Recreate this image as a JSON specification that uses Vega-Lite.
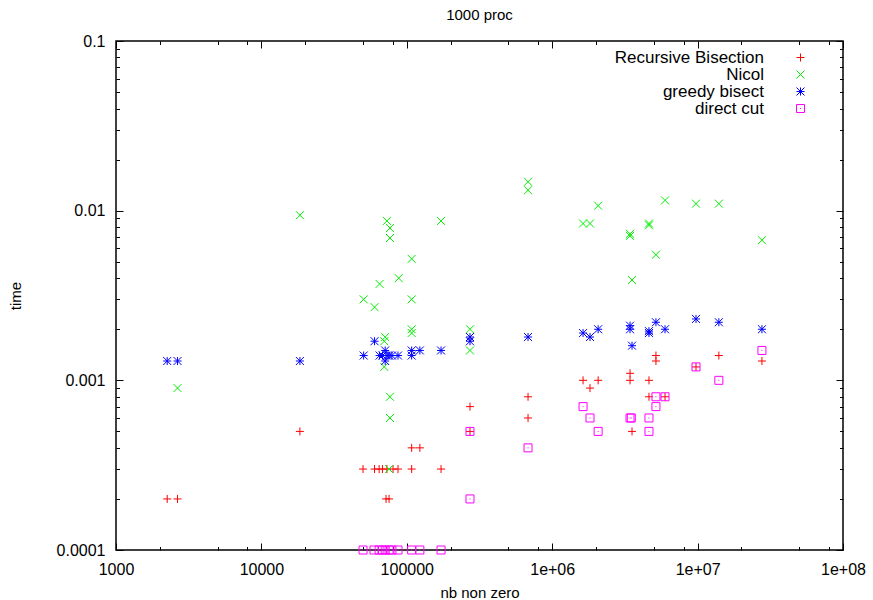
{
  "$schema": "https://vega.github.io/schema/vega-lite/v6.json",
  "width": 727,
  "height": 509,
  "autosize": {"type": "none"},
  "padding": {"left": 116, "top": 41, "right": 30, "bottom": 50},
  "background": "white",
  "title": {"text": "1000 proc", "font": "Liberation Sans", "fontSize": 15, "fontWeight": "normal", "color": "black", "anchor": "middle", "offset": 10},
  "config": {
    "view": {"stroke": "black", "strokeWidth": 1.5},
    "font": "Liberation Sans"
  },
  "data": {"values": [
    {"algo": "Recursive Bisection", "nnz": 2250, "time": 0.0002},
    {"algo": "Recursive Bisection", "nnz": 2650, "time": 0.0002},
    {"algo": "Recursive Bisection", "nnz": 18400, "time": 0.0005},
    {"algo": "Recursive Bisection", "nnz": 50000, "time": 0.0003},
    {"algo": "Recursive Bisection", "nnz": 60000, "time": 0.0003},
    {"algo": "Recursive Bisection", "nnz": 64500, "time": 0.0003},
    {"algo": "Recursive Bisection", "nnz": 68000, "time": 0.0003},
    {"algo": "Recursive Bisection", "nnz": 73000, "time": 0.0003},
    {"algo": "Recursive Bisection", "nnz": 80400, "time": 0.0003},
    {"algo": "Recursive Bisection", "nnz": 87000, "time": 0.0003},
    {"algo": "Recursive Bisection", "nnz": 108000, "time": 0.0003},
    {"algo": "Recursive Bisection", "nnz": 172000, "time": 0.0003},
    {"algo": "Recursive Bisection", "nnz": 72000, "time": 0.0002},
    {"algo": "Recursive Bisection", "nnz": 75500, "time": 0.0002},
    {"algo": "Recursive Bisection", "nnz": 108000, "time": 0.0004},
    {"algo": "Recursive Bisection", "nnz": 123000, "time": 0.0004},
    {"algo": "Recursive Bisection", "nnz": 272000, "time": 0.0007},
    {"algo": "Recursive Bisection", "nnz": 272000, "time": 0.0005},
    {"algo": "Recursive Bisection", "nnz": 682000, "time": 0.0008},
    {"algo": "Recursive Bisection", "nnz": 682000, "time": 0.0006},
    {"algo": "Recursive Bisection", "nnz": 1630000, "time": 0.001},
    {"algo": "Recursive Bisection", "nnz": 2070000, "time": 0.001},
    {"algo": "Recursive Bisection", "nnz": 1820000, "time": 0.0009},
    {"algo": "Recursive Bisection", "nnz": 3430000, "time": 0.0011},
    {"algo": "Recursive Bisection", "nnz": 3430000, "time": 0.001},
    {"algo": "Recursive Bisection", "nnz": 4630000, "time": 0.001},
    {"algo": "Recursive Bisection", "nnz": 3540000, "time": 0.0005},
    {"algo": "Recursive Bisection", "nnz": 4630000, "time": 0.0008},
    {"algo": "Recursive Bisection", "nnz": 5170000, "time": 0.0014},
    {"algo": "Recursive Bisection", "nnz": 5170000, "time": 0.0013},
    {"algo": "Recursive Bisection", "nnz": 5970000, "time": 0.0008},
    {"algo": "Recursive Bisection", "nnz": 9750000, "time": 0.0012},
    {"algo": "Recursive Bisection", "nnz": 14000000, "time": 0.0014},
    {"algo": "Recursive Bisection", "nnz": 27700000, "time": 0.0013},
    {"algo": "Nicol", "nnz": 2650, "time": 0.0009},
    {"algo": "Nicol", "nnz": 18400, "time": 0.0094},
    {"algo": "Nicol", "nnz": 73000, "time": 0.0087},
    {"algo": "Nicol", "nnz": 76600, "time": 0.0079},
    {"algo": "Nicol", "nnz": 76600, "time": 0.0069},
    {"algo": "Nicol", "nnz": 172000, "time": 0.0087},
    {"algo": "Nicol", "nnz": 108000, "time": 0.0052},
    {"algo": "Nicol", "nnz": 88000, "time": 0.004},
    {"algo": "Nicol", "nnz": 65000, "time": 0.0037},
    {"algo": "Nicol", "nnz": 50500, "time": 0.003},
    {"algo": "Nicol", "nnz": 60000, "time": 0.0027},
    {"algo": "Nicol", "nnz": 108000, "time": 0.003},
    {"algo": "Nicol", "nnz": 108000, "time": 0.002},
    {"algo": "Nicol", "nnz": 108000, "time": 0.0019},
    {"algo": "Nicol", "nnz": 71000, "time": 0.0018},
    {"algo": "Nicol", "nnz": 70000, "time": 0.0017},
    {"algo": "Nicol", "nnz": 70000, "time": 0.0012},
    {"algo": "Nicol", "nnz": 76600, "time": 0.0008},
    {"algo": "Nicol", "nnz": 76600, "time": 0.0006},
    {"algo": "Nicol", "nnz": 75500, "time": 0.0003},
    {"algo": "Nicol", "nnz": 272000, "time": 0.002},
    {"algo": "Nicol", "nnz": 272000, "time": 0.0015},
    {"algo": "Nicol", "nnz": 682000, "time": 0.0148},
    {"algo": "Nicol", "nnz": 682000, "time": 0.0132},
    {"algo": "Nicol", "nnz": 2070000, "time": 0.0107},
    {"algo": "Nicol", "nnz": 1630000, "time": 0.0084},
    {"algo": "Nicol", "nnz": 1820000, "time": 0.0084},
    {"algo": "Nicol", "nnz": 3430000, "time": 0.0073},
    {"algo": "Nicol", "nnz": 3430000, "time": 0.0071},
    {"algo": "Nicol", "nnz": 4630000, "time": 0.0084},
    {"algo": "Nicol", "nnz": 4630000, "time": 0.0082},
    {"algo": "Nicol", "nnz": 5970000, "time": 0.0115},
    {"algo": "Nicol", "nnz": 9750000, "time": 0.011},
    {"algo": "Nicol", "nnz": 14000000, "time": 0.011},
    {"algo": "Nicol", "nnz": 27700000, "time": 0.0067},
    {"algo": "Nicol", "nnz": 5170000, "time": 0.0055},
    {"algo": "Nicol", "nnz": 3540000, "time": 0.0039},
    {"algo": "greedy bisect", "nnz": 2250, "time": 0.0013},
    {"algo": "greedy bisect", "nnz": 2650, "time": 0.0013},
    {"algo": "greedy bisect", "nnz": 18400, "time": 0.0013},
    {"algo": "greedy bisect", "nnz": 50500, "time": 0.0014},
    {"algo": "greedy bisect", "nnz": 60000, "time": 0.0017},
    {"algo": "greedy bisect", "nnz": 65000, "time": 0.0014},
    {"algo": "greedy bisect", "nnz": 68000, "time": 0.0014},
    {"algo": "greedy bisect", "nnz": 71000, "time": 0.0015},
    {"algo": "greedy bisect", "nnz": 73000, "time": 0.0014},
    {"algo": "greedy bisect", "nnz": 71000, "time": 0.0013},
    {"algo": "greedy bisect", "nnz": 75500, "time": 0.0014},
    {"algo": "greedy bisect", "nnz": 79000, "time": 0.0014},
    {"algo": "greedy bisect", "nnz": 87000, "time": 0.0014},
    {"algo": "greedy bisect", "nnz": 108000, "time": 0.0015},
    {"algo": "greedy bisect", "nnz": 108000, "time": 0.0014},
    {"algo": "greedy bisect", "nnz": 123000, "time": 0.0015},
    {"algo": "greedy bisect", "nnz": 172000, "time": 0.0015},
    {"algo": "greedy bisect", "nnz": 272000, "time": 0.0018},
    {"algo": "greedy bisect", "nnz": 272000, "time": 0.0017},
    {"algo": "greedy bisect", "nnz": 682000, "time": 0.0018},
    {"algo": "greedy bisect", "nnz": 1630000, "time": 0.0019},
    {"algo": "greedy bisect", "nnz": 1820000, "time": 0.0018},
    {"algo": "greedy bisect", "nnz": 2070000, "time": 0.002},
    {"algo": "greedy bisect", "nnz": 3430000, "time": 0.0021},
    {"algo": "greedy bisect", "nnz": 3430000, "time": 0.002},
    {"algo": "greedy bisect", "nnz": 3540000, "time": 0.0016},
    {"algo": "greedy bisect", "nnz": 4630000, "time": 0.0019},
    {"algo": "greedy bisect", "nnz": 4630000, "time": 0.00195},
    {"algo": "greedy bisect", "nnz": 5170000, "time": 0.0022},
    {"algo": "greedy bisect", "nnz": 5970000, "time": 0.002},
    {"algo": "greedy bisect", "nnz": 9750000, "time": 0.0023},
    {"algo": "greedy bisect", "nnz": 14000000, "time": 0.0022},
    {"algo": "greedy bisect", "nnz": 27700000, "time": 0.002},
    {"algo": "direct cut", "nnz": 50000, "time": 0.0001},
    {"algo": "direct cut", "nnz": 59500, "time": 0.0001},
    {"algo": "direct cut", "nnz": 64500, "time": 0.0001},
    {"algo": "direct cut", "nnz": 68000, "time": 0.0001},
    {"algo": "direct cut", "nnz": 71000, "time": 0.0001},
    {"algo": "direct cut", "nnz": 75500, "time": 0.0001},
    {"algo": "direct cut", "nnz": 79000, "time": 0.0001},
    {"algo": "direct cut", "nnz": 87000, "time": 0.0001},
    {"algo": "direct cut", "nnz": 108000, "time": 0.0001},
    {"algo": "direct cut", "nnz": 123000, "time": 0.0001},
    {"algo": "direct cut", "nnz": 172000, "time": 0.0001},
    {"algo": "direct cut", "nnz": 272000, "time": 0.0005},
    {"algo": "direct cut", "nnz": 272000, "time": 0.0002},
    {"algo": "direct cut", "nnz": 682000, "time": 0.0004},
    {"algo": "direct cut", "nnz": 1630000, "time": 0.0007},
    {"algo": "direct cut", "nnz": 1820000, "time": 0.0006},
    {"algo": "direct cut", "nnz": 2070000, "time": 0.0005},
    {"algo": "direct cut", "nnz": 3430000, "time": 0.0006},
    {"algo": "direct cut", "nnz": 3500000, "time": 0.0006},
    {"algo": "direct cut", "nnz": 4630000, "time": 0.0006},
    {"algo": "direct cut", "nnz": 4630000, "time": 0.0005},
    {"algo": "direct cut", "nnz": 5170000, "time": 0.0007},
    {"algo": "direct cut", "nnz": 5170000, "time": 0.0008},
    {"algo": "direct cut", "nnz": 5970000, "time": 0.0008},
    {"algo": "direct cut", "nnz": 9750000, "time": 0.0012},
    {"algo": "direct cut", "nnz": 14000000, "time": 0.001},
    {"algo": "direct cut", "nnz": 27700000, "time": 0.0015}
  ]},
  "layer": [
    {
      "mark": {"type": "point", "filled": false, "strokeWidth": 1, "opacity": 1, "size": 64, "clip": false},
      "encoding": {
        "x": {
          "field": "nnz", "type": "quantitative",
          "scale": {"type": "log", "domain": [1000, 100000000], "nice": false},
          "axis": {
            "title": "nb non zero", "titleFont": "Liberation Sans", "titleFontSize": 15, "titleFontWeight": "normal", "titleColor": "black", "titlePadding": 5,
            "values": [1000, 2000, 5000, 8000, 10000, 20000, 50000, 80000, 100000, 200000, 500000, 800000, 1000000, 2000000, 5000000, 8000000, 10000000, 20000000, 50000000, 80000000, 100000000],
            "labelExpr": "abs(log(datum.value)/LN10 - round(log(datum.value)/LN10)) < 0.001 ? (datum.value < 1000000 ? format(datum.value, 'd') : '1e+0' + round(log(datum.value)/LN10)) : ''",
            "labelFont": "Liberation Sans", "labelFontSize": 16, "labelColor": "black", "labelFlush": false, "labelOverlap": false,
            "labelPadding": 18,
            "domain": false, "grid": false,
            "tickColor": "black", "tickWidth": 1,
            "tickSize": {"condition": {"test": "abs(log(datum.value)/LN10 - round(log(datum.value)/LN10)) < 0.001", "value": -7}, "value": -3.5}
          }
        },
        "y": {
          "field": "time", "type": "quantitative",
          "scale": {"type": "log", "domain": [0.0001, 0.1], "nice": false},
          "axis": {
            "title": "time", "titleFont": "Liberation Sans", "titleFontSize": 15, "titleFontWeight": "normal", "titleColor": "black", "titlePadding": 33,
            "values": [0.0001, 0.0002, 0.0003, 0.0004, 0.0005, 0.0006, 0.0007, 0.0008, 0.0009, 0.001, 0.002, 0.003, 0.004, 0.005, 0.006, 0.007, 0.008, 0.009, 0.01, 0.02, 0.03, 0.04, 0.05, 0.06, 0.07, 0.08, 0.09, 0.1],
            "labelExpr": "abs(log(datum.value)/LN10 - round(log(datum.value)/LN10)) < 0.001 ? format(datum.value, '~g') : ''",
            "labelFont": "Liberation Sans", "labelFontSize": 16, "labelColor": "black", "labelFlush": false, "labelOverlap": false,
            "labelPadding": 18,
            "domain": false, "grid": false,
            "tickColor": "black", "tickWidth": 1,
            "tickSize": {"condition": {"test": "abs(log(datum.value)/LN10 - round(log(datum.value)/LN10)) < 0.001", "value": -7}, "value": -3.5}
          }
        },
        "color": {
          "field": "algo", "type": "nominal",
          "scale": {"domain": ["Recursive Bisection", "Nicol", "greedy bisect", "direct cut"], "range": ["#ff0000", "#00ee00", "#0000ff", "#ff00ff"]},
          "legend": {
            "title": null, "orient": "none", "legendX": 676, "legendY": 8,
            "labelFont": "Liberation Sans", "labelFontSize": 17, "labelColor": "black",
            "labelAlign": "right", "labelOffset": -45, "labelLimit": 300,
            "symbolStrokeWidth": 1, "symbolSize": 64, "rowPadding": -1, "padding": 0
          }
        },
        "shape": {
          "field": "algo", "type": "nominal",
          "scale": {"domain": ["Recursive Bisection", "Nicol", "greedy bisect", "direct cut"], "range": [
            "M-1,0L1,0M0,-1L0,1",
            "M-1,-1L1,1M-1,1L1,-1",
            "M-1,0L1,0M0,-1L0,1M-1,-1L1,1M-1,1L1,-1",
            "M-1,-1L1,-1L1,1L-1,1ZM-0.12,0L0.12,0"
          ]},
          "legend": {
            "title": null, "orient": "none", "legendX": 676, "legendY": 8,
            "labelFont": "Liberation Sans", "labelFontSize": 17, "labelColor": "black",
            "labelAlign": "right", "labelOffset": -45, "labelLimit": 300,
            "symbolStrokeWidth": 1, "symbolSize": 64, "rowPadding": -1, "padding": 0
          }
        }
      }
    },
    {
      "mark": {"type": "point", "opacity": 0},
      "encoding": {
        "x": {
          "field": "nnz", "type": "quantitative",
          "scale": {"type": "log", "domain": [1000, 100000000], "nice": false},
          "axis": {
            "orient": "top", "title": null, "labels": false, "domain": false, "grid": false,
            "values": [1000, 2000, 5000, 8000, 10000, 20000, 50000, 80000, 100000, 200000, 500000, 800000, 1000000, 2000000, 5000000, 8000000, 10000000, 20000000, 50000000, 80000000, 100000000],
            "tickColor": "black", "tickWidth": 1,
            "tickSize": {"condition": {"test": "abs(log(datum.value)/LN10 - round(log(datum.value)/LN10)) < 0.001", "value": -7}, "value": -3.5}
          }
        },
        "y": {
          "field": "time", "type": "quantitative",
          "scale": {"type": "log", "domain": [0.0001, 0.1], "nice": false},
          "axis": {
            "orient": "right", "title": null, "labels": false, "domain": false, "grid": false,
            "values": [0.0001, 0.0002, 0.0003, 0.0004, 0.0005, 0.0006, 0.0007, 0.0008, 0.0009, 0.001, 0.002, 0.003, 0.004, 0.005, 0.006, 0.007, 0.008, 0.009, 0.01, 0.02, 0.03, 0.04, 0.05, 0.06, 0.07, 0.08, 0.09, 0.1],
            "tickColor": "black", "tickWidth": 1,
            "tickSize": {"condition": {"test": "abs(log(datum.value)/LN10 - round(log(datum.value)/LN10)) < 0.001", "value": -7}, "value": -3.5}
          }
        }
      }
    }
  ],
  "resolve": {"axis": {"x": "independent", "y": "independent"}}
}
